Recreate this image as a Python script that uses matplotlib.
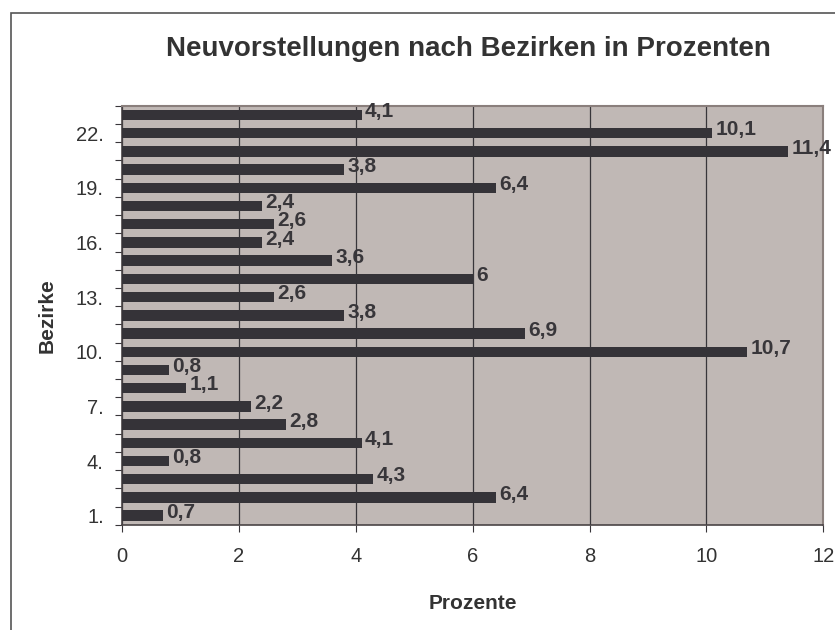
import matplotlib.pyplot as plt
from matplotlib.patches import Rectangle

# district numbers and their share in percent (bottom to top)
bezirke = list(range(1, 24))
werte = [0.7, 6.4, 4.3, 0.8, 4.1, 2.8, 2.2, 1.1, 0.8, 10.7, 6.9, 3.8,
         2.6, 6.0, 3.6, 2.4, 2.6, 2.4, 6.4, 3.8, 11.4, 10.1, 4.1]
label_bezirke = [1, 4, 7, 10, 13, 16, 19, 22]
x_ticks = [0, 2, 4, 6, 8, 10, 12]

plt.rcParams['font.family'] = ['Liberation Sans', 'DejaVu Sans']

fig = plt.figure(figsize=(8.35, 6.3), dpi=100)
ax = fig.add_axes([0.146, 0.167, 0.84, 0.665])

# outer chart border (right/bottom edge lies outside the image)
fig.patches.append(Rectangle((11 / 835, -0.05), 1.1, 1 - 13 / 630 + 0.05,
                             transform=fig.transFigure, fill=False,
                             edgecolor='#555555', linewidth=1.2))

ax.set_facecolor('#c0b8b5')
ax.barh(bezirke, werte, height=0.57, color='#353338', zorder=3)

for b, w in zip(bezirke, werte):
    txt = f'{w:g}'.replace('.', ',')
    ax.text(w + 0.06, b + 0.18, txt, va='center', ha='left', fontsize=15,
            fontweight='bold', color='#38363a', zorder=4, clip_on=False)

ax.set_xlim(0, 12)
ax.set_ylim(0.5, 23.5)
ax.set_xticks(x_ticks)
ax.set_xticklabels([str(t) for t in x_ticks], fontsize=14.5, color='#333333')
ax.xaxis.grid(True, color='#38363a', linewidth=0.9, zorder=1)

# tick marks at category borders, labels at every third district
ax.set_yticks([b - 0.5 for b in bezirke] + [23.5])
ax.set_yticklabels([])
ax.set_yticks(label_bezirke, minor=True)
ax.set_yticklabels([f'{b}.' for b in label_bezirke], minor=True,
                   fontsize=14.5, color='#333333')
ax.tick_params(axis='y', which='minor', length=0, pad=13)
ax.tick_params(axis='y', which='major', length=5, color='#38363a')
ax.tick_params(axis='x', length=5, color='#38363a', pad=11)

for s in ['top', 'right']:
    ax.spines[s].set_color('#8a7f7c')
    ax.spines[s].set_linewidth(1.5)
for s in ['left', 'bottom']:
    ax.spines[s].set_color('#4a4446')
    ax.spines[s].set_linewidth(1.2)

ax.set_xlabel('Prozente', fontsize=15, fontweight='bold', color='#333333',
              labelpad=20)
ax.set_ylabel('Bezirke', fontsize=15, fontweight='bold', color='#333333',
              labelpad=14)
fig.text(0.561, 0.923, 'Neuvorstellungen nach Bezirken in Prozenten',
         ha='center', va='center', fontsize=20, fontweight='bold',
         color='#333333')

fig.savefig('out.png', dpi=100)
